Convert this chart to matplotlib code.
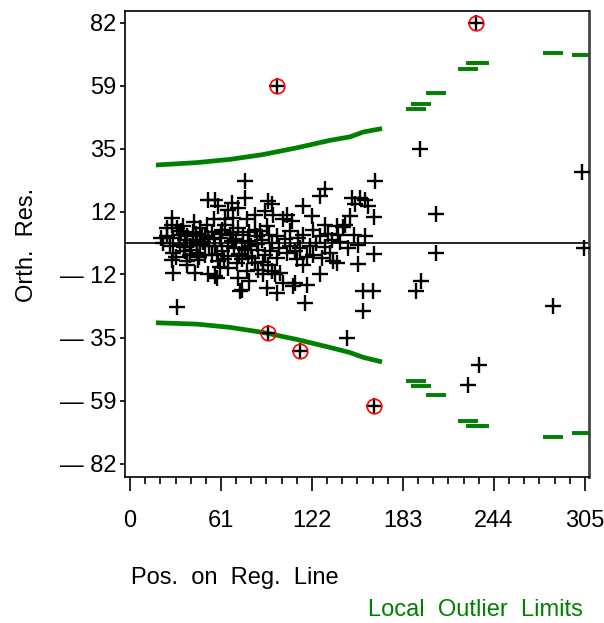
import numpy as np
import matplotlib.pyplot as plt

plt.rcParams['font.family'] = ['Liberation Sans', 'DejaVu Sans']

# ------------------ data ------------------
# position on regression line / orthogonal residual (black plus signs)
pos = [21.0, 22.4, 24.6, 24.6, 26.8, 28.0, 28.0, 28.0, 29.1, 29.1, 29.1, 31.3, 31.0,
       31.5, 33.0, 33.5, 35.7, 36.0, 36.9, 38.0, 38.0, 38.0, 40.0, 40.2, 42.0, 42.5,
       43.0, 43.6, 44.7, 45.0, 45.8, 47.0, 47.0, 48.0, 50.3, 50.3, 51.4, 52.5, 52.5,
       52.5, 54.8, 55.0, 56.0, 57.0, 57.0, 57.0, 58.1, 59.2, 59.2, 60.0, 60.3, 62.0,
       62.0, 63.7, 64.0, 65.9, 65.9, 65.9, 67.0, 68.2, 68.2, 69.0, 70.0, 71.5, 72.6,
       72.6, 72.6, 73.0, 73.7, 74.8, 74.8, 76.0, 77.1, 77.1, 78.2, 78.2, 79.3, 79.3,
       80.0, 81.0, 83.8, 83.8, 83.8, 85.0, 86.0, 86.0, 88.3, 89.4, 90.5, 90.5, 91.6,
       91.6, 92.7, 92.7, 93.8, 95.0, 95.0, 95.0, 96.1, 97.2, 98.3, 98.3, 98.3, 100.5,
       102.8, 102.8, 105.0, 105.0, 107.2, 108.4, 109.5, 110.6, 110.6, 112.8, 114.0,
       116.2, 116.2, 116.2, 117.3, 118.4, 120.7, 121.8, 122.9, 122.9, 127.4, 127.4,
       127.4, 128.5, 130.7, 130.7, 134.0, 135.2, 136.3, 138.5, 138.5, 139.6, 141.0,
       143.0, 144.1, 145.2, 146.0, 147.5, 148.6, 150.0, 150.8, 152.6, 153.0, 154.2,
       156.4, 156.4, 157.5, 157.5, 159.7, 163.1, 163.7, 163.7, 164.2,
       34.0, 37.0, 41.0, 44.0, 46.0, 49.0, 53.0, 56.0, 58.0, 61.0, 63.0, 66.0, 69.0,
       71.0, 75.0, 77.0, 80.0, 82.0, 85.0, 87.0, 89.0, 93.0, 100.0, 104.0, 107.0,
       112.0, 119.0, 125.0, 131.0, 133.0,
       191.5, 194.4, 195.0, 204.9, 205.1, 226.8, 234.1, 283.3, 303.2, 304.3,
       232.0, 98.5, 92.7, 114.0, 163.8]
res = [2.0, 0.0, 5.7, 2.5, -1.2, 6.9, -6.2, 9.5, 1.9, -3.7, -11.1, 5.7, -5.0,
       -23.9, 3.0, -0.6, 6.3, -1.5, -3.1, 2.5, -6.8, -8.0, -4.5, -1.2, 4.0, 1.3,
       8.0, -11.1, -3.7, 0.5, -6.2, 5.7, -0.6, 3.0, 2.5, -4.3, 6.9, 16.2, 1.9,
       -11.7, -4.3, 4.0, 9.0, 16.2, -1.2, -12.4, -13.0, 13.7, -6.8, -9.0, 1.9, -3.0,
       5.0, 6.9, 9.0, 12.5, -4.9, -9.3, 3.0, 15.0, 0.7, 9.5, -2.0, -7.4, 13.1,
       5.7, -13.0, -4.0, -18.0, -1.8, -17.3, 3.0, 23.1, 16.9, 8.8, -10.5, 0.7, -4.9,
       -14.0, -1.0, 10.6, 5.0, -7.4, 2.5, -2.4, -10.0, 1.3, -11.7, 11.9, -4.3, 6.3,
       -16.7, 15.6, -8.0, -3.1, 14.4, 0.0, -10.5, 10.6, -11.7, 2.5, -5.5, -18.6, -11.1,
       8.8, -14.8, -3.7, 10.6, -1.2, 8.1, -16.1, -3.1, -14.8, 1.9, -1.8,
       13.7, 3.2, -8.0, -22.3, -15.5, -1.2, 10.0, 5.0, -4.3, 17.5, 2.5,
       -11.7, -5.5, 20.3, 6.9, -3.7, 1.3, -6.8, 6.3, -7.4, 3.2, 0.5,
       5.9, 6.9, -35.4, -2.0, 10.0, 16.9, 3.0, 14.6, -7.8, -0.6, 16.9,
       -18.0, -25.2, 16.2, 2.5, 13.7, -18.0, 9.6, -4.0, 23.1,
       4.5, 1.0, -2.5, 3.5, -5.0, 0.5, -1.0, 1.5, -4.0, 3.5, -6.0, -1.0, 4.0,
       1.5, -6.0, -2.5, 4.0, -5.5, -0.5, 4.5, -7.0, 3.0, -2.0, 1.5, 4.5,
       -6.0, -5.0, 0.0, -1.5, 3.5,
       -17.7, 35.1, -14.0, 10.9, -3.7, -52.8, -45.3, -23.6, 26.4, -1.8,
       81.9, 58.7, -33.5, -40.1, -60.9]

# flagged outliers (red circles)
out_pos = [232.0, 98.5, 92.7, 114.0, 163.8]
out_res = [81.9, 58.7, -33.5, -40.1, -60.9]

# local outlier limits, dense part (continuous band)
band_pos = [17.4, 44.7, 67.0, 89.1, 111.7, 134.1, 147.5, 156.4, 169.0]
band_up = [29.1, 30.0, 31.2, 33.0, 35.5, 38.3, 39.6, 41.4, 42.7]
band_lo = [-29.7, -30.2, -31.4, -33.3, -35.9, -38.9, -40.8, -42.6, -44.3]

# local outlier limits, sparse part (one dash per observation)
dash_pos = [191.5, 195.0, 204.9, 226.8, 232.0, 234.1, 283.3, 303.2]
dash_up = [50.1, 51.9, 55.8, 65.0, 67.3, 67.3, 71.0, 70.0]
dash_lo = [-51.3, -53.4, -56.8, -66.2, -68.0, -68.0, -72.1, -70.7]

x_ticks = [0, 61, 122, 183, 244, 305]
y_ticks = [-82.2, -58.7, -35.2, -11.7, 11.7, 35.2, 58.7, 82.2]
y_ticklabels = ['\u2014 82', '\u2014 59', '\u2014 35', '\u2014 12', '12', '35', '59', '82']

# ------------------ plot ------------------
GREEN = '#008000'
HALF = 6.7   # half width of a limit dash

fig = plt.figure(figsize=(6.04, 6.23), dpi=100)
ax = fig.add_axes([0.207, 0.2343, 0.768, 0.748])

ax.axhline(0, color='black', lw=1.2, zorder=1)

ax.plot(band_pos, band_up, color=GREEN, lw=3.4, solid_capstyle='butt', zorder=2)
ax.plot(band_pos, band_lo, color=GREEN, lw=3.4, solid_capstyle='butt', zorder=2)
dp = np.array(dash_pos)
ax.hlines(dash_up, dp - HALF, dp + HALF, color=GREEN, lw=2.8, zorder=2)
ax.hlines(dash_lo, dp - HALF, dp + HALF, color=GREEN, lw=2.8, zorder=2)

ax.plot(pos, res, '+', color='black', ms=11.5, mew=1.7, zorder=3)
ax.plot(out_pos, out_res, 'o', mfc='none', mec='red', ms=10.5, mew=1.2, zorder=4)

ax.set_xlim(-3.35, 307.7)
ax.set_ylim(-87.2, 86.5)

ax.set_xticks(x_ticks)
ax.set_xticks(np.arange(0, 306, 61 / 6), minor=True)
ax.set_yticks(y_ticks)
ax.set_yticklabels(y_ticklabels)
ax.tick_params(axis='x', which='major', length=10, width=1.2, pad=14, labelsize=17)
ax.tick_params(axis='x', which='minor', length=5, width=1.2)
ax.tick_params(axis='y', which='major', length=3.6, width=1.2, pad=2.5, labelsize=17)
for s in ax.spines.values():
    s.set_linewidth(1.2)
ax.spines['right'].set_linewidth(2.0)
ax.spines['right'].set_color('#444444')

fig.text(27 / 604, 1 - 245 / 623, 'Orth.  Res.', rotation=90, ha='center', va='center',
         fontsize=17)
fig.text(131 / 604, 1 - 578 / 623, 'Pos.  on  Reg.  Line', ha='left', va='center', fontsize=17)
fig.text(583 / 604, 1 - 610 / 623, 'Local  Outlier  Limits', ha='right', va='center',
         fontsize=17, color=GREEN)

fig.savefig('out.png', dpi=100)
